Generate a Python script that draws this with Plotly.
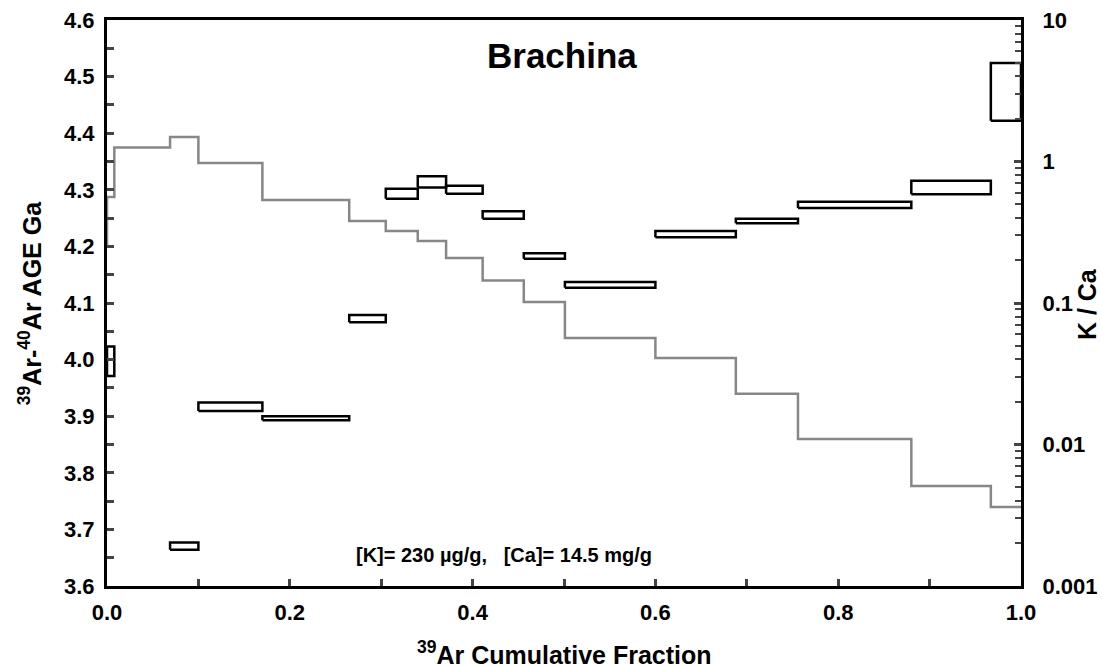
import plotly.graph_objects as go

# cumulative 39Ar fraction step boundaries
frac_bounds = [0.0, 0.008, 0.069, 0.100, 0.170, 0.265, 0.305, 0.340, 0.371,
               0.411, 0.456, 0.501, 0.600, 0.688, 0.756, 0.880, 0.967, 1.0]
# age (Ga) lower / upper limits per step (None = off scale)
age_lo = [3.971, None, 3.664, 3.909, 3.893, 4.066, 4.284, 4.304, 4.293,
          4.249, 4.178, 4.127, 4.216, 4.241, 4.268, 4.292, 4.422]
age_hi = [4.023, None, 3.677, 3.924, 3.900, 4.079, 4.302, 4.324, 4.307,
          4.262, 4.188, 4.137, 4.227, 4.249, 4.279, 4.316, 4.524]
# K/Ca per step
kca_start = 0.245
kca = [0.561, 1.256, 1.49, 0.976, 0.534, 0.380, 0.323, 0.274, 0.208,
       0.144, 0.1016, 0.0566, 0.0408, 0.0228, 0.01094, 0.00509, 0.00362]

FONT = "Arial, Liberation Sans, sans-serif"
TICKFONT = dict(size=22, family=FONT, weight="bold")

rx, ry = [], []
for i in range(len(age_lo)):
    if age_lo[i] is None:
        continue
    x0, x1 = frac_bounds[i], frac_bounds[i + 1]
    rx += [x0, x1, x1, x0, x0, None]
    ry += [age_lo[i], age_lo[i], age_hi[i], age_hi[i], age_lo[i], None]

fig = go.Figure()
fig.add_trace(go.Scatter(x=rx, y=ry, mode="lines", fill="toself",
                         fillcolor="white", line=dict(color="black", width=2.5),
                         hoverinfo="skip", showlegend=False))

sx = [0.0] + frac_bounds[:-1] + [frac_bounds[-1]]
sy = [kca_start] + kca + [kca[-1]]
fig.add_trace(go.Scatter(x=sx, y=sy, mode="lines", line_shape="hv",
                         line=dict(color="#878787", width=2.5),
                         yaxis="y2", showlegend=False))

fig.update_layout(
    width=1102, height=667,
    margin=dict(l=107, r=81, t=20, b=81, autoexpand=False),
    paper_bgcolor="white", plot_bgcolor="white",
    font=dict(family=FONT, color="black", size=20),
    xaxis=dict(range=[0, 1], dtick=0.2, tick0=0, tickformat=".1f",
               ticks="inside", ticklen=7, tickwidth=2.5,
               minor=dict(dtick=0.1, ticks="inside", ticklen=7, tickwidth=2.5),
               showline=True, linecolor="black", linewidth=3, mirror=True,
               showgrid=False, zeroline=False, automargin=False,
               ticklabeloverflow="allow",
               ticklabelstandoff=5, tickfont=TICKFONT),
    yaxis=dict(range=[3.6, 4.6], dtick=0.1, tick0=3.6, tickformat=".1f",
               ticks="inside", ticklen=7, tickwidth=2.5,
               minor=dict(dtick=0.05, ticks="inside", ticklen=7, tickwidth=2.5),
               showline=True, linecolor="black", linewidth=3,
               showgrid=False, zeroline=False, automargin=False,
               ticklabeloverflow="allow",
               ticklabelstandoff=5, tickfont=TICKFONT),
    yaxis2=dict(type="log", range=[-3, 1], overlaying="y", side="right",
                tickmode="linear", tick0=0, dtick=1,
                ticks="inside", ticklen=7, tickwidth=2.5,
                minor=dict(ticks="inside", ticklen=6, tickwidth=2, dtick="D1"),
                showline=True, linecolor="black", linewidth=3,
                showgrid=False, zeroline=False, automargin=False,
                ticklabeloverflow="allow",
                ticklabelstandoff=14, tickfont=TICKFONT),
    annotations=[
        dict(text="<b>Brachina</b>", x=0.498, y=0.938, xref="paper", yref="paper",
             xanchor="center", yanchor="middle",
             showarrow=False, font=dict(size=35, family=FONT)),
        dict(text="<b>[K]= 230 µg/g,   [Ca]= 14.5 mg/g</b>", x=0.434, y=0.055,
             xref="paper", yref="paper", xanchor="center", yanchor="middle",
             showarrow=False, font=dict(size=20, family=FONT)),
        dict(text="<b><sup>39</sup>Ar Cumulative Fraction</b>", x=0.501, y=-0.1185,
             xref="paper", yref="paper", xanchor="center", yanchor="middle",
             showarrow=False, font=dict(size=25, family=FONT)),
        dict(text="<b><sup>39</sup>Ar-<sup>40</sup>Ar AGE Ga</b>", x=-0.084, y=0.5,
             xref="paper", yref="paper", xanchor="center", yanchor="middle",
             showarrow=False, textangle=-90, font=dict(size=25, family=FONT)),
        dict(text="<b>K / Ca</b>", x=1.0722, y=0.498, xref="paper", yref="paper",
             xanchor="center", yanchor="middle",
             showarrow=False, textangle=-90, font=dict(size=25, family=FONT)),
    ],
)

fig.write_html("out.html",
               config={"displayModeBar": False},
               post_script="document.body.style.margin='0';"
                           "document.body.style.overflow='hidden';")
